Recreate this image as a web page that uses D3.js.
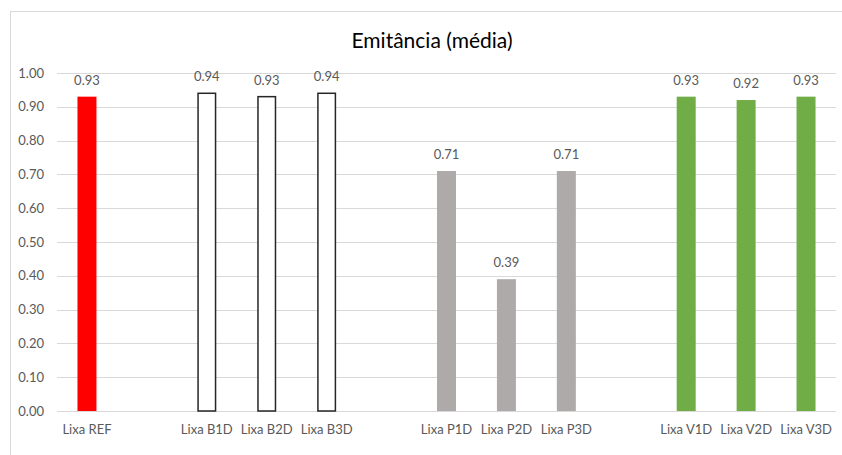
<!DOCTYPE html>
<html>
<head>
<meta charset="utf-8">
<script src="https://cdn.jsdelivr.net/npm/d3@7/dist/d3.min.js"></script>
<style>
  html, body { margin: 0; padding: 0; background: #fff; }
  svg { display: block; }
</style>
</head>
<body>
<svg id="chart" width="842" height="455"></svg>
<script>
// Category slots (the "gap" slots keep the space between sample groups)
const categories = ["Lixa REF", "gap1", "Lixa B1D", "Lixa B2D", "Lixa B3D", "gap2",
                    "Lixa P1D", "Lixa P2D", "Lixa P3D", "gap3", "Lixa V1D", "Lixa V2D", "Lixa V3D"];
const samples = ["Lixa REF", "Lixa B1D", "Lixa B2D", "Lixa B3D",
                 "Lixa P1D", "Lixa P2D", "Lixa P3D",
                 "Lixa V1D", "Lixa V2D", "Lixa V3D"];
const emittance = [0.93, 0.94, 0.93, 0.94, 0.71, 0.39, 0.71, 0.93, 0.92, 0.93];
const groups = ["ref", "b", "b", "b", "p", "p", "p", "v", "v", "v"];
const yTicks = [0, 0.1, 0.2, 0.3, 0.4, 0.5, 0.6, 0.7, 0.8, 0.9, 1.0];

const fills = { ref: "#FF0000", b: "#FFFFFF", p: "#AEAAAA", v: "#70AD47" };
const strokes = { ref: "none", b: "#262626", p: "none", v: "none" };

const svg = d3.select("#chart");
const font = "Lato, 'Open Sans', sans-serif";

// chart frame
svg.append("rect")
  .attr("x", 10.5).attr("y", 11.5)
  .attr("width", 840).attr("height", 460)
  .attr("fill", "none").attr("stroke", "#D9D9D9").attr("stroke-width", 1);

const x = d3.scaleBand()
  .domain(categories)
  .range([57, 836])
  .paddingInner(0.683)
  .paddingOuter(0.3415);

const y = d3.scaleLinear().domain([0, 1]).range([411, 73]);

// title
svg.append("text")
  .attr("x", 432).attr("y", 48)
  .attr("text-anchor", "middle")
  .attr("font-family", font)
  .attr("font-size", 21)
  .attr("fill", "#000")
  .text("Emitância (média)");

// gridlines
svg.append("g").selectAll("line")
  .data(yTicks)
  .join("line")
  .attr("x1", 57).attr("x2", 836)
  .attr("y1", d => Math.round(y(d)) + 0.5)
  .attr("y2", d => Math.round(y(d)) + 0.5)
  .attr("stroke", "#D9D9D9").attr("stroke-width", 1);

// y axis labels
const yAxis = d3.axisLeft(y).tickValues(yTicks).tickFormat(d3.format(".2f")).tickSize(0).tickPadding(0);
const ya = svg.append("g").attr("transform", "translate(44,0)").call(yAxis);
ya.select(".domain").remove();
ya.selectAll("text")
  .attr("font-family", font).attr("font-size", 13).attr("fill", "#595959");

// x axis labels
const xAxis = d3.axisBottom(x).tickValues(samples).tickSize(0).tickPadding(0);
const xa = svg.append("g").attr("transform", "translate(0,425)").call(xAxis);
xa.select(".domain").remove();
xa.selectAll("text")
  .attr("font-family", font).attr("font-size", 13).attr("fill", "#595959");

const data = samples.map((s, i) => ({ name: s, value: emittance[i], group: groups[i] }));

// bars
svg.append("g").selectAll("rect")
  .data(data)
  .join("rect")
  .attr("x", d => x(d.name) + (d.group === "b" ? 0.75 : 0))
  .attr("y", d => y(d.value))
  .attr("width", d => x.bandwidth() - (d.group === "b" ? 1.5 : 0))
  .attr("height", d => y(0) - y(d.value))
  .attr("fill", d => fills[d.group])
  .attr("stroke", d => strokes[d.group])
  .attr("stroke-width", 1.5);

// value labels
svg.append("g").selectAll("text")
  .data(data)
  .join("text")
  .attr("x", d => x(d.name) + x.bandwidth() / 2)
  .attr("y", d => y(d.value) - 12)
  .attr("text-anchor", "middle")
  .attr("font-family", font)
  .attr("font-size", 13)
  .attr("fill", "#595959")
  .text(d => d3.format(".2f")(d.value));
</script>
</body>
</html>
